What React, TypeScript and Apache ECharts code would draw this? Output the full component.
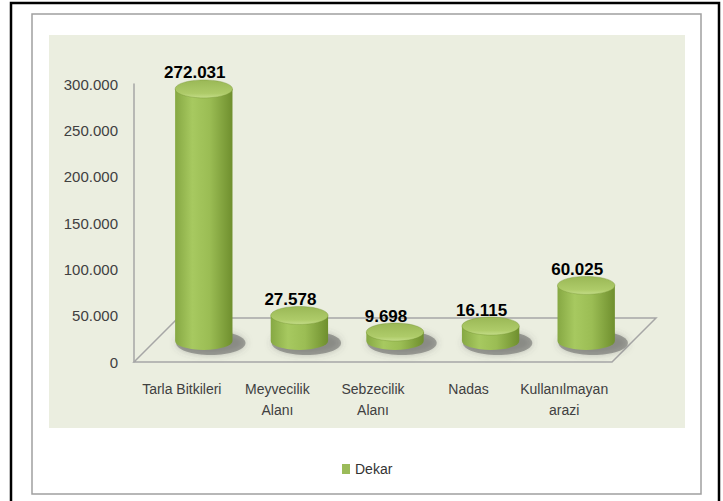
import React, { useEffect, useRef } from "react";
import * as echarts from "echarts";

const categories = [
  "Tarla Bitkileri",
  "Meyvecilik\nAlanı",
  "Sebzecilik\nAlanı",
  "Nadas",
  "Kullanılmayan\narazi",
];
const dekar = [272031, 27578, 9698, 16115, 60025];
const yMin = 0;
const yMax = 300000;
const yInterval = 50000;
const seriesName = "Dekar";

const DEPTH = 44;
const HALF = DEPTH / 2;

function fmt(v: number): string {
  return String(v).replace(/\B(?=(\d{3})+(?!\d))/g, ".");
}

export default function App() {
  const ref = useRef<HTMLDivElement>(null);

  useEffect(() => {
    if (!ref.current) return;
    const chart = echarts.init(ref.current, undefined, { renderer: "svg" });

    const bodyGrad = () =>
      new echarts.graphic.LinearGradient(0, 0, 1, 0, [
        { offset: 0, color: "#86A843" },
        { offset: 0.3, color: "#A7C960" },
        { offset: 0.6, color: "#9BBD54" },
        { offset: 1, color: "#6F8F2E" },
      ]);
    const topGrad = () =>
      new echarts.graphic.LinearGradient(0, 0, 0, 1, [
        { offset: 0, color: "#9AB856" },
        { offset: 0.75, color: "#AECB69" },
        { offset: 1, color: "#C4DD88" },
      ]);

    const option: any = {
      animation: false,
      backgroundColor: "#ffffff",
      graphic: [
        {
          type: "rect",
          z: -10,
          shape: { x: 11, y: 3, width: 708, height: 530 },
          style: { fill: "none", stroke: "#000000", lineWidth: 2.5 },
        },
        {
          type: "rect",
          z: -9,
          shape: { x: 32, y: 14, width: 669, height: 480 },
          style: { fill: "#ffffff", stroke: "#A0A0A0", lineWidth: 1.5 },
        },
        {
          type: "rect",
          z: -8,
          shape: { x: 49, y: 35, width: 636, height: 393 },
          style: { fill: "#EBEEE0" },
        },
      ],
      legend: {
        data: [seriesName],
        left: 337,
        top: 457,
        icon: "rect",
        itemWidth: 8,
        itemHeight: 10,
        itemGap: 5,
        textStyle: {
          fontFamily: "'Liberation Sans', Arial, sans-serif",
          fontSize: 14,
          color: "#333333",
        },
      },
      grid: { left: 134, right: 111, top: 84, bottom: 139 },
      xAxis: {
        type: "category",
        data: categories,
        axisLine: { show: false },
        axisTick: { show: false },
        axisLabel: {
          margin: 16,
          fontFamily: "'Liberation Sans', Arial, sans-serif",
          fontSize: 14,
          lineHeight: 21,
          color: "#404040",
          interval: 0,
        },
      },
      yAxis: {
        type: "value",
        min: yMin,
        max: yMax,
        interval: yInterval,
        axisLine: { show: true, lineStyle: { color: "#A6A6A6", width: 1.5 } },
        axisTick: { show: false },
        splitLine: { show: false },
        axisLabel: {
          margin: 16,
          fontFamily: "'Liberation Sans', Arial, sans-serif",
          fontSize: 15,
          color: "#404040",
          formatter: (v: number) => fmt(v),
        },
      },
      series: [
        {
          type: "custom",
          name: "floor",
          silent: true,
          z: 1,
          data: [[0, 0]],
          renderItem: (params: any) => {
            const cs = params.coordSys;
            const x = cs.x;
            const y = cs.y + cs.height;
            const w = cs.width;
            return {
              type: "polygon",
              shape: {
                points: [
                  [x, y],
                  [x + w, y],
                  [x + w + DEPTH, y - DEPTH],
                  [x + DEPTH, y - DEPTH],
                ],
              },
              style: { fill: "none", stroke: "#A6A6A6", lineWidth: 1.5 },
            };
          },
        },
        {
          type: "custom",
          name: seriesName,
          z: 2,
          itemStyle: { color: "#9BBB59" },
          data: dekar.map((v, i) => [i, v]),
          encode: { x: 0, y: 1 },
          renderItem: (params: any, api: any) => {
            const idx = api.value(0);
            const val = api.value(1);
            const base = api.coord([idx, 0]);
            const top = api.coord([idx, val]);
            const bw = api.size([1, 0])[0];
            const rx = bw * 0.3;
            const ry = 9;
            const cx = base[0] + HALF;
            const by = base[1] - HALF + 1;
            const ty = top[1] - HALF + 1;
            const bodyPath =
              `M ${cx - rx} ${ty} L ${cx - rx} ${by} ` +
              `A ${rx} ${ry} 0 0 0 ${cx + rx} ${by} L ${cx + rx} ${ty} Z`;
            return {
              type: "group",
              children: [
                {
                  type: "ellipse",
                  shape: { cx: cx + 7, cy: by + 2, rx: rx + 6, ry: ry + 3 },
                  style: {
                    fill: "rgba(80,80,80,0.45)",
                    shadowBlur: 7,
                    shadowColor: "rgba(80,80,80,0.7)",
                  },
                },
                {
                  type: "path",
                  shape: { pathData: bodyPath },
                  style: { fill: bodyGrad() },
                },
                {
                  type: "ellipse",
                  shape: { cx: cx, cy: ty, rx: rx, ry: ry },
                  style: {
                    fill: topGrad(),
                    stroke: "rgba(110,140,45,0.6)",
                    lineWidth: 0.6,
                  },
                },
                {
                  type: "text",
                  style: {
                    text: fmt(val),
                    x: cx - 9,
                    y: ty - ry - 7,
                    align: "center",
                    verticalAlign: "middle",
                    fontFamily: "'Liberation Sans', Arial, sans-serif",
                    fontWeight: "bold",
                    fontSize: 17,
                    fill: "#000000",
                  },
                },
              ],
            };
          },
        },
      ],
    };

    chart.setOption(option);
    return () => chart.dispose();
  }, []);

  return (
    <div
      ref={ref}
      style={{ position: "fixed", left: 0, top: 0, width: 723, height: 501 }}
    />
  );
}
